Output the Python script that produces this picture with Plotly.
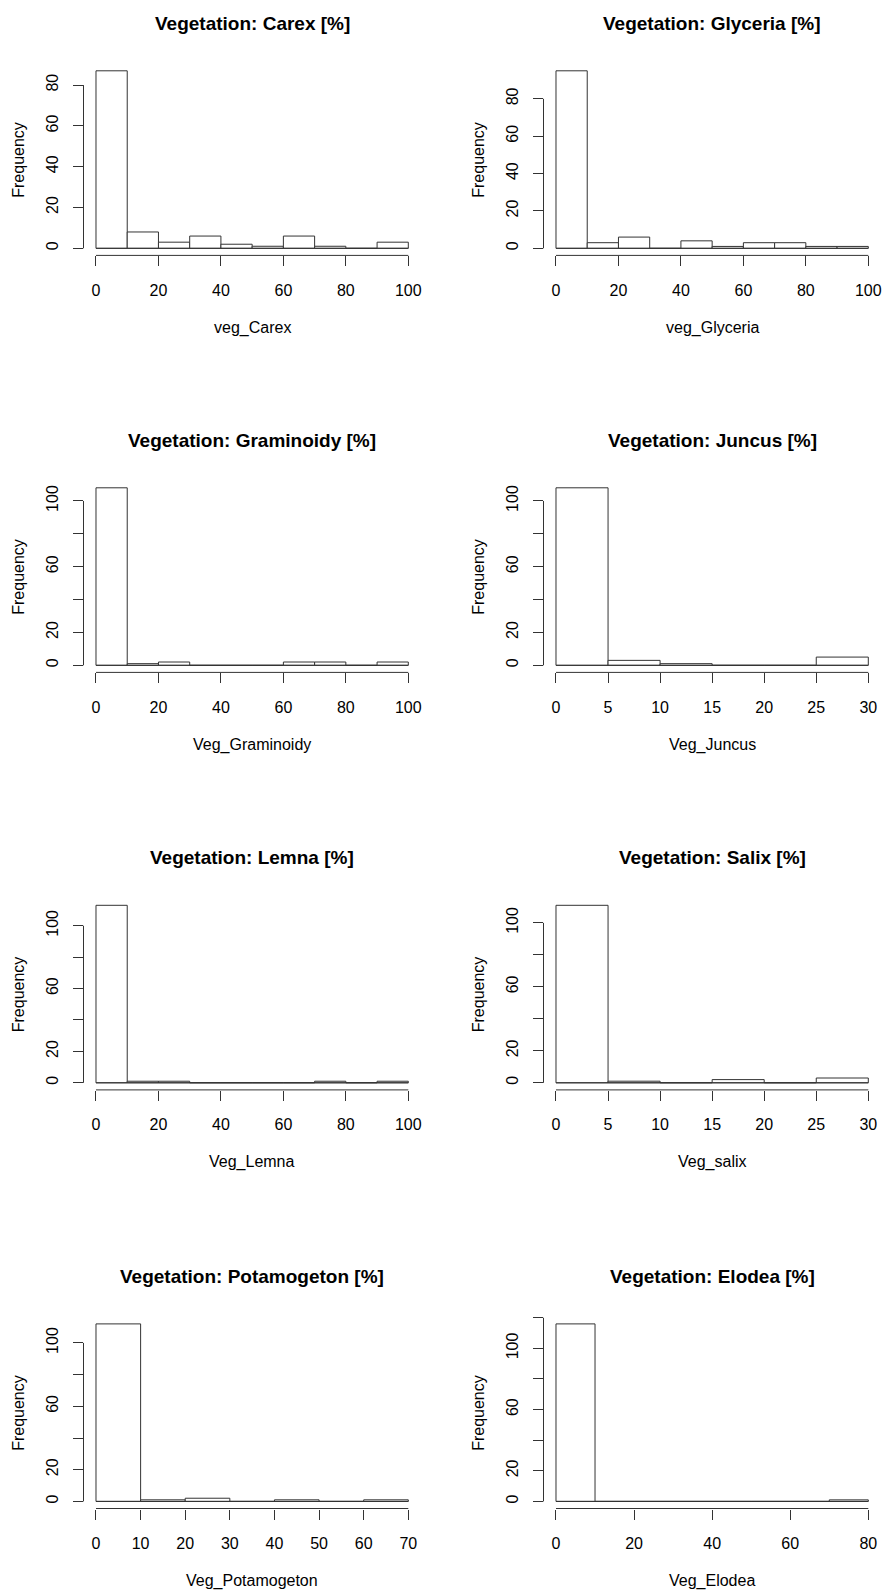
import plotly.graph_objects as go

# ---------------- data ----------------
panel_titles = ["Vegetation: Carex [%]", "Vegetation: Glyceria [%]",
                "Vegetation: Graminoidy [%]", "Vegetation: Juncus [%]",
                "Vegetation: Lemna [%]", "Vegetation: Salix [%]",
                "Vegetation: Potamogeton [%]", "Vegetation: Elodea [%]"]
x_labels = ["veg_Carex", "veg_Glyceria", "Veg_Graminoidy", "Veg_Juncus",
            "Veg_Lemna", "Veg_salix", "Veg_Potamogeton", "Veg_Elodea"]

carex_edges = [0, 10, 20, 30, 40, 50, 60, 70, 80, 90, 100]
carex_counts = [87, 8, 3, 6, 2, 1, 6, 1, 0, 3]
glyceria_edges = [0, 10, 20, 30, 40, 50, 60, 70, 80, 90, 100]
glyceria_counts = [95, 3, 6, 0, 4, 1, 3, 3, 1, 1]
graminoidy_edges = [0, 10, 20, 30, 40, 50, 60, 70, 80, 90, 100]
graminoidy_counts = [108, 1, 2, 0, 0, 0, 2, 2, 0, 2]
juncus_edges = [0, 5, 10, 15, 20, 25, 30]
juncus_counts = [108, 3, 1, 0, 0, 5]
lemna_edges = [0, 10, 20, 30, 40, 50, 60, 70, 80, 90, 100]
lemna_counts = [113, 1, 1, 0, 0, 0, 0, 1, 0, 1]
salix_edges = [0, 5, 10, 15, 20, 25, 30]
salix_counts = [111, 1, 0, 2, 0, 3]
potamogeton_edges = [0, 10, 20, 30, 40, 50, 60, 70]
potamogeton_counts = [112, 1, 2, 0, 1, 0, 1]
elodea_edges = [0, 10, 20, 30, 40, 50, 60, 70, 80]
elodea_counts = [116, 0, 0, 0, 0, 0, 0, 1]

x_ticks_100 = [0, 20, 40, 60, 80, 100]
x_ticks_30 = [0, 5, 10, 15, 20, 25, 30]
x_ticks_70 = [0, 10, 20, 30, 40, 50, 60, 70]
x_ticks_80 = [0, 20, 40, 60, 80]

y_ticks_80 = [0, 20, 40, 60, 80]
y_text_80 = ["0", "20", "40", "60", "80"]
y_ticks_100 = [0, 20, 40, 60, 80, 100]
y_text_100 = ["0", "20", "", "60", "", "100"]
y_ticks_120 = [0, 20, 40, 60, 80, 100, 120]
y_text_120 = ["0", "20", "", "60", "", "100", ""]

panels = [
    (carex_edges, carex_counts, x_ticks_100, y_ticks_80, y_text_80),
    (glyceria_edges, glyceria_counts, x_ticks_100, y_ticks_80, y_text_80),
    (graminoidy_edges, graminoidy_counts, x_ticks_100, y_ticks_100, y_text_100),
    (juncus_edges, juncus_counts, x_ticks_30, y_ticks_100, y_text_100),
    (lemna_edges, lemna_counts, x_ticks_100, y_ticks_100, y_text_100),
    (salix_edges, salix_counts, x_ticks_30, y_ticks_100, y_text_100),
    (potamogeton_edges, potamogeton_counts, x_ticks_70, y_ticks_100, y_text_100),
    (elodea_edges, elodea_counts, x_ticks_80, y_ticks_120, y_text_120),
]

# ---------------- layout geometry (pixels) ----------------
W, H = 884, 1591
col_left = [83.5, 543.5]
col_width = 337.3
row_top = [63.7, 480.7, 898.2, 1316.8]
row_height = 191.7

FONT = "Liberation Sans, Arial, sans-serif"
LINE = "#333333"
TXT = "#000000"
tick_font = dict(family=FONT, size=16, color=TXT)

fig = go.Figure()
layout = dict(
    width=W, height=H, margin=dict(l=0, r=0, t=0, b=0),
    paper_bgcolor="white", plot_bgcolor="white", showlegend=False,
    annotations=[], shapes=[],
)

for i, (edges, counts, xt, yt, ytt) in enumerate(panels):
    r, c = divmod(i, 2)
    n = i + 1
    xa = "xaxis" if n == 1 else f"xaxis{n}"
    ya = "yaxis" if n == 1 else f"yaxis{n}"
    xr = "x" if n == 1 else f"x{n}"
    yr = "y" if n == 1 else f"y{n}"

    x0p = col_left[c]
    x1p = x0p + col_width
    y0p = row_top[r]
    y1p = y0p + row_height

    centers = [(edges[k] + edges[k + 1]) / 2 for k in range(len(counts))]
    widths = [edges[k + 1] - edges[k] for k in range(len(counts))]

    fig.add_trace(go.Bar(
        x=centers, y=counts, width=widths, xaxis=xr, yaxis=yr,
        marker=dict(color="white", line=dict(color=LINE, width=1)),
        hoverinfo="x+y",
    ))
    fig.add_trace(go.Scatter(
        x=[edges[0], edges[-1]], y=[0, 0], xaxis=xr, yaxis=yr,
        mode="lines", line=dict(color=LINE, width=1), hoverinfo="skip",
    ))

    xspan = edges[-1] - edges[0]
    ymax = max(counts)
    layout[xa] = dict(
        domain=[x0p / W, x1p / W], anchor=yr,
        range=[edges[0] - 0.04 * xspan, edges[-1] + 0.04 * xspan],
        tickmode="array", tickvals=xt, ticktext=[str(v) for v in xt],
        ticks="outside", ticklen=10, tickwidth=1, tickcolor=LINE,
        showline=False, showgrid=False, zeroline=False,
        tickfont=tick_font, ticklabelstandoff=10, fixedrange=True,
    )
    layout[ya] = dict(
        domain=[1 - y1p / H, 1 - y0p / H], anchor=xr,
        range=[-0.04 * ymax, 1.04 * ymax],
        tickmode="array", tickvals=yt, ticktext=ytt, tickangle=-90,
        ticks="outside", ticklen=9.5, tickwidth=1, tickcolor=LINE,
        showline=False, showgrid=False, zeroline=False,
        tickfont=tick_font, ticklabelstandoff=9, fixedrange=True,
    )
    # R-style axis lines spanning first..last tick
    layout["shapes"].append(dict(
        type="line", xref=xr, yref=f"{yr} domain",
        x0=xt[0], x1=xt[-1], y0=0, y1=0,
        line=dict(color=LINE, width=1),
    ))
    layout["shapes"].append(dict(
        type="line", xref=f"{xr} domain", yref=yr,
        x0=0, x1=0, y0=yt[0], y1=yt[-1],
        line=dict(color=LINE, width=1),
    ))
    # title
    layout["annotations"].append(dict(
        text=f"<b>{panel_titles[i]}</b>", xref=f"{xr} domain", yref=f"{yr} domain",
        x=0.5, y=1, yshift=40.3, xanchor="center", yanchor="middle",
        showarrow=False, font=dict(family=FONT, size=19, color=TXT),
    ))
    # x label
    layout["annotations"].append(dict(
        text=x_labels[i], xref=f"{xr} domain", yref=f"{yr} domain",
        x=0.5, y=0, yshift=-72.5, xanchor="center", yanchor="middle",
        showarrow=False, font=dict(family=FONT, size=16, color=TXT),
    ))
    # y label
    layout["annotations"].append(dict(
        text="Frequency", xref=f"{xr} domain", yref=f"{yr} domain",
        x=0, y=0.5, xshift=-65.3, xanchor="center", yanchor="middle",
        textangle=-90, showarrow=False,
        font=dict(family=FONT, size=16, color=TXT),
    ))

fig.update_layout(**layout)
fig.write_html("out.html")
